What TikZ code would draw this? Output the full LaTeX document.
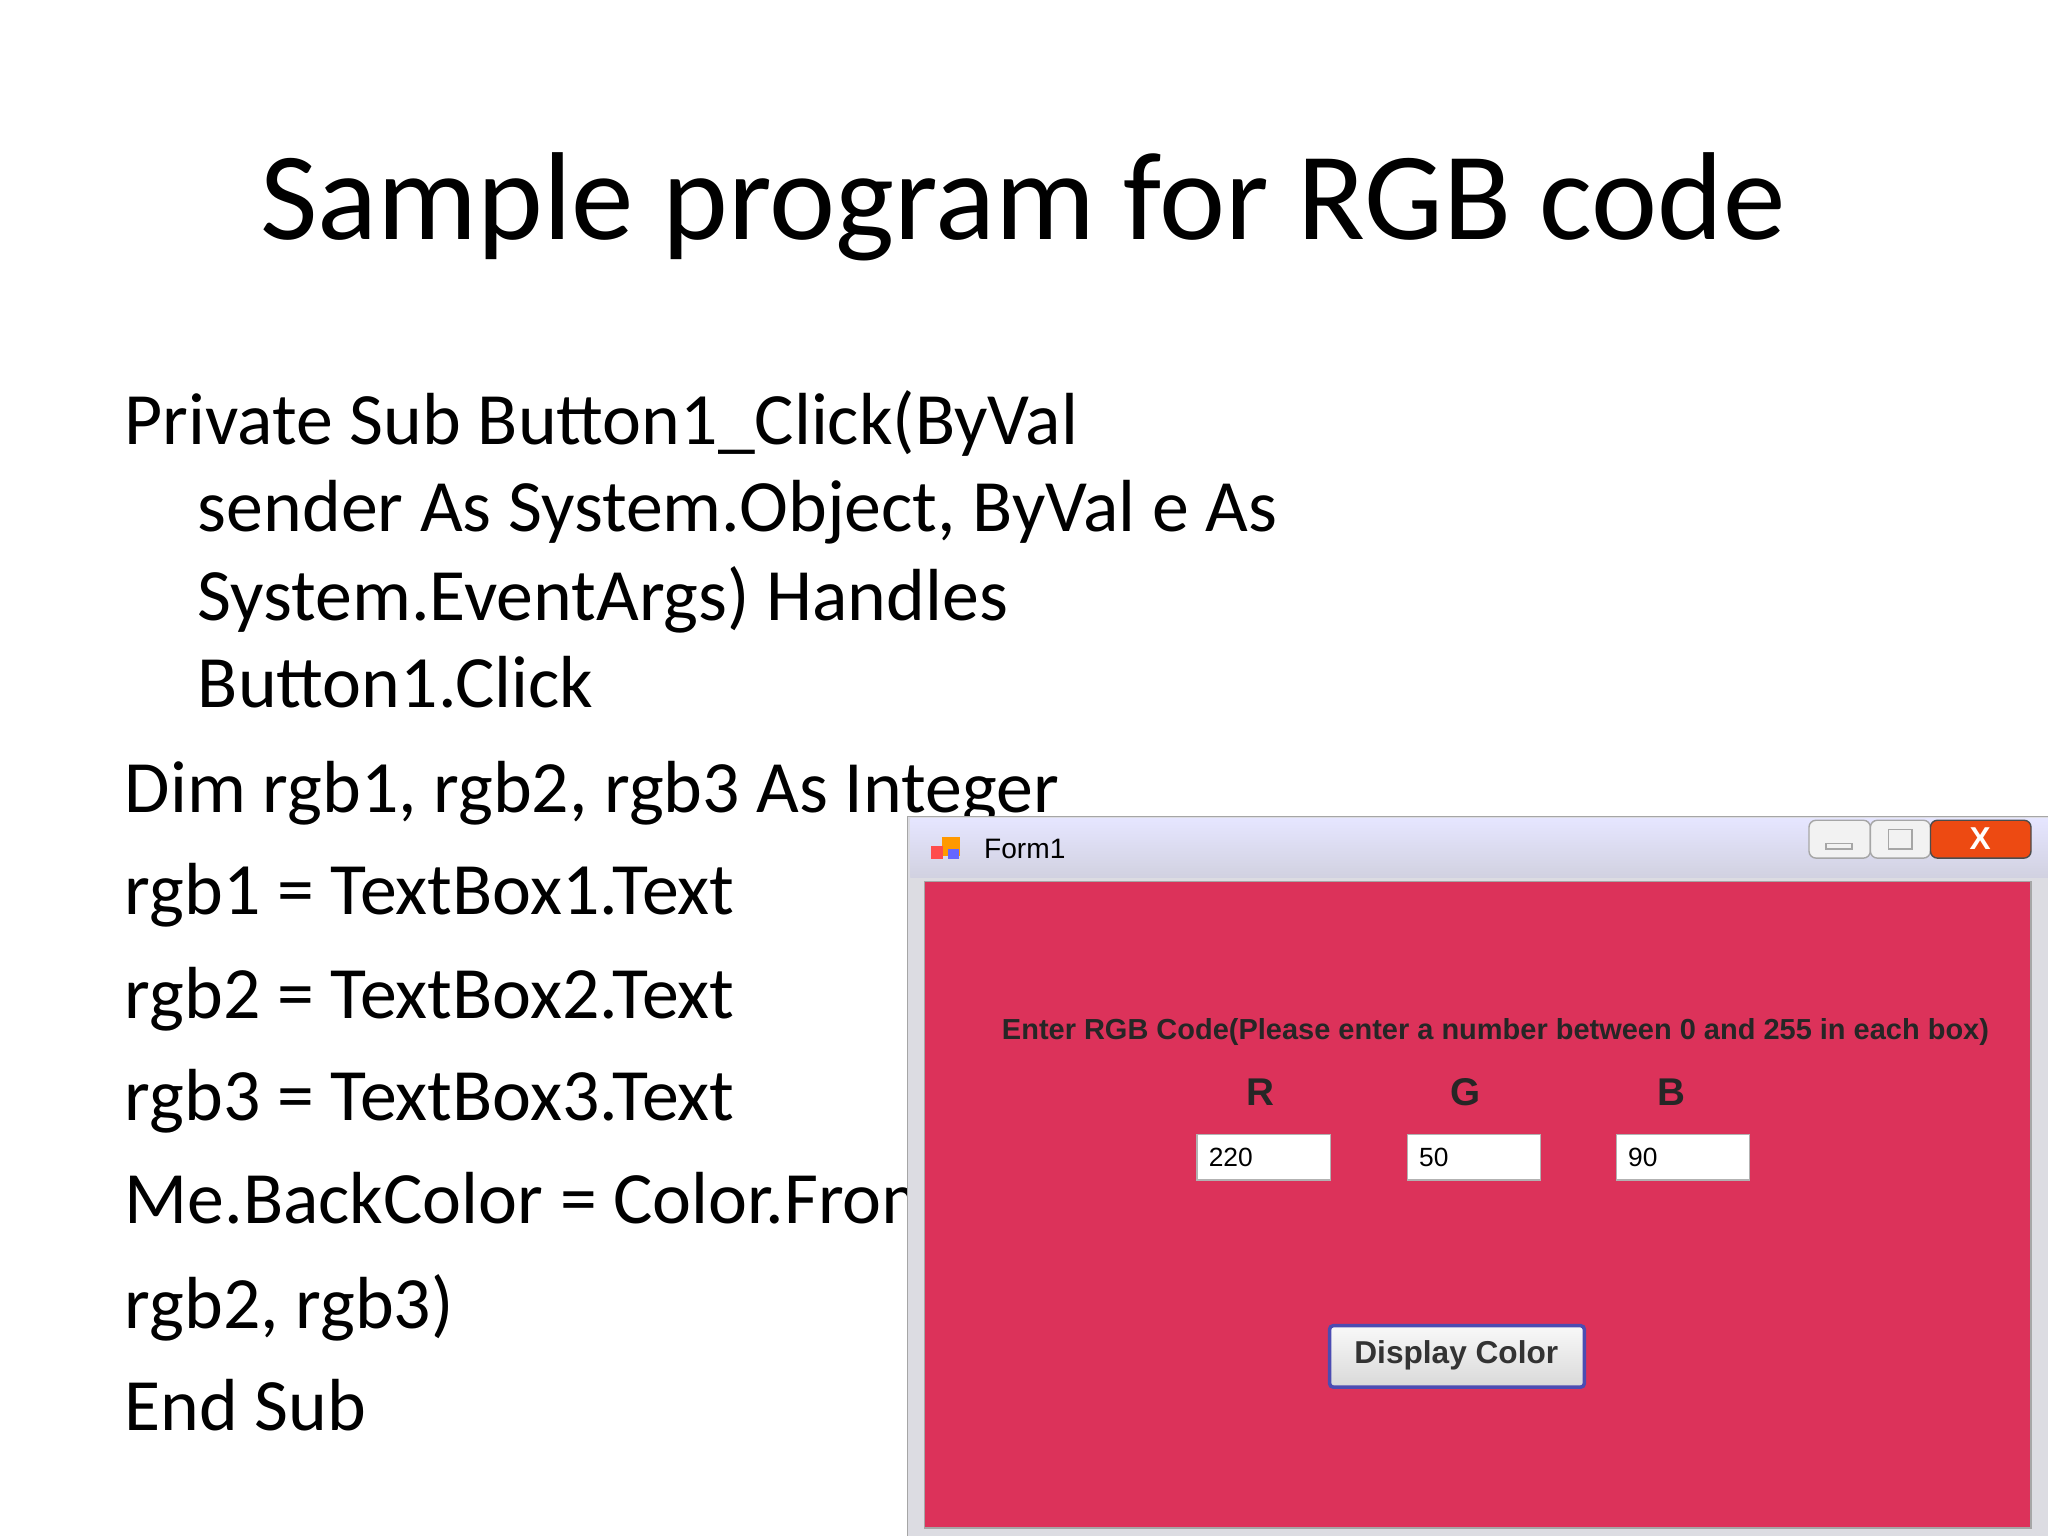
\documentclass[tikz,border=0pt]{standalone}
\usepackage{fontspec}
\setmainfont{Carlito}
\newfontfamily\winfont{Liberation Sans}
\begin{document}
\begin{tikzpicture}[x=0.013061cm,y=-0.013061cm,
  body/.style={anchor=base west,inner sep=0,font=\fontsize{21}{25}\selectfont},
  tbox/.style={draw=gray!60,fill=white,anchor=north west,minimum width=102*0.013061cm,minimum height=35*0.013061cm,inner sep=0},
  lbl/.style={font=\winfont\bfseries\fontsize{8}{9}\selectfont,text=black!85},
  tval/.style={anchor=west,font=\winfont\fontsize{7.5}{9}\selectfont}]
\definecolor{formred}{RGB}{220,50,90}
\useasboundingbox (0,0) rectangle (1568,1176);
\fill[white] (0,0) rectangle (1568,1176);
\node[anchor=base,inner sep=0,font=\fontsize{35.6}{40}\selectfont] (title) at (783,183) {Sample program for RGB code};
\node[body] (l1) at (95,340) {Private Sub Button1\_Click(ByVal};
\node[body] (l2) at (151,407) {sender As System.Object, ByVal e As};
\node[body] (l3) at (151,475) {System.EventArgs) Handles};
\node[body] (l4) at (151,542) {Button1.Click};
\node[body] (l5) at (95,622) {Dim rgb1, rgb2, rgb3 As Integer};
\node[body] (l6) at (95,700) {rgb1 = TextBox1.Text};
\node[body] (l7) at (95,780) {rgb2 = TextBox2.Text};
\node[body] (l8) at (95,858) {rgb3 = TextBox3.Text};
\node[body] (l9) at (95,937) {Me.BackColor = Color.FromArgb(rgb1,};
\node[body] (l10) at (95,1017) {rgb2, rgb3)};
\node[body] (l11) at (95,1095) {End Sub};
% window
\fill[blue!10!gray!25,draw=gray!70] (695,625) rectangle (1572,1180);
\shade[top color=white!90!blue,bottom color=blue!20!gray!30] (697,627) rectangle (1570,672);
\fill[formred] (708,675) rectangle (1555,1170);
\draw[gray!70] (708,675) rectangle (1555,1170);
% icon
\fill[orange!80!yellow] (721,641) rectangle (735,655);
\fill[red!70] (713,648) rectangle (722,658);
\fill[blue!60] (726,650) rectangle (734,658);
\node[anchor=west,font=\winfont\fontsize{8}{9}\selectfont] (ftitle) at (744,650) {Form1};
% caption buttons
\draw[gray!70,fill=gray!10,rounded corners=2] (1385,628) rectangle (1432,657);
\draw[gray!70] (1398,646) rectangle (1418,650);
\draw[gray!70,fill=gray!10,rounded corners=2] (1432,628) rectangle (1478,657);
\draw[gray!70] (1446,635) rectangle (1464,650);
\draw[gray!60!black,fill=red!60!brown!70!orange,rounded corners=2] (1478,628) rectangle (1555,657);
\node[font=\winfont\bfseries\fontsize{9}{9}\selectfont,text=white] (xb) at (1516,642) {X};
% content
\node[lbl] (prompt) at (1145,790) {\resizebox{9.87cm}{!}{Enter RGB Code(Please enter a number between 0 and 255 in each box)}};
\node[lbl,font=\winfont\bfseries\fontsize{11}{12}\selectfont] (R) at (965,836) {R};
\node[lbl,font=\winfont\bfseries\fontsize{11}{12}\selectfont] (G) at (1122,836) {G};
\node[lbl,font=\winfont\bfseries\fontsize{11}{12}\selectfont] (B) at (1280,836) {B};
\node[tbox] (t1) at (916,868) {};
\node[tbox] (t2) at (1077,868) {};
\node[tbox] (t3) at (1237,868) {};
\node[tval] at (t1.west) {220};
\node[tval] at (t2.west) {50};
\node[tval] at (t3.west) {90};
\shade[top color=gray!5,bottom color=gray!30,draw=blue!40!gray,line width=1pt,rounded corners=1] (1018,1015) rectangle (1213,1062);
\node[font=\winfont\bfseries\fontsize{9}{10}\selectfont,text=black!80] (btn) at (1115,1038) {Display Color};
\end{tikzpicture}
\end{document}
